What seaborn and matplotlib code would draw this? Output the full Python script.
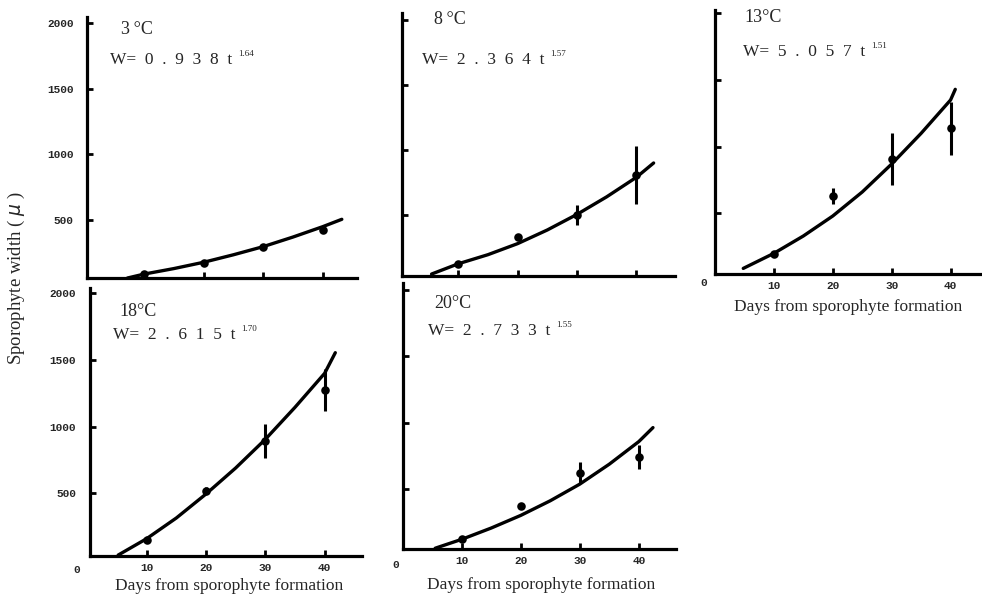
import matplotlib
matplotlib.use("Agg")
import matplotlib.pyplot as plt
import seaborn as sns
import pandas as pd

# ---------------- data ----------------
days = [10, 20, 30, 40]
panel_titles = ["3\u2009\u00b0C", "8\u2009\u00b0C", "13\u00b0C", "18\u00b0C", "20\u00b0C"]
coef_text = ["0 . 9 3 8", "2 . 3 6 4", "5 . 0 5 7", "2 . 6 1 5", "2 . 7 3 3"]
exp_text = ["1.64", "1.57", "1.51", "1.70", "1.55"]

width_3 = [89, 175, 297, 424]
err_3 = [8, 8, 10, 12]
width_8 = [123, 328, 500, 808]
err_8 = [20, 10, 77, 224]
width_13 = [195, 630, 905, 1137]
err_13 = [10, 60, 195, 196]
width_18 = [150, 520, 892, 1275]
err_18 = [10, 25, 130, 160]
width_20 = [125, 376, 626, 742]
err_20 = [10, 10, 80, 90]

fit_t_3 = [7.2, 10, 15, 20, 25, 30, 35, 40, 43.2]
fit_w_3 = [58, 88, 130, 178, 235, 297, 370, 449, 505]
fit_t_8 = [5.5, 10, 15, 20, 25, 30, 35, 40, 42.9]
fit_w_8 = [46, 125, 195, 280, 385, 505, 640, 790, 900]
fit_t_13 = [4.8, 10, 15, 20, 25, 30, 35, 40, 40.8]
fit_w_13 = [87, 200, 330, 480, 660, 870, 1100, 1350, 1430]
fit_t_18 = [5.2, 10, 15, 20, 25, 30, 35, 40, 41.8]
fit_w_18 = [37, 160, 315, 495, 690, 905, 1145, 1400, 1555]
fit_t_20 = [5.5, 10, 15, 20, 25, 30, 35, 40, 42.4]
fit_w_20 = [58, 125, 210, 305, 415, 540, 690, 860, 965]

y_ticks = [500, 1000, 1500, 2000]
x_ticks = [10, 20, 30, 40]
x_label = "Days from sporophyte formation"
y_label = "Sporophyte width ( $\\mu$ )"

# ---------------- layout ----------------
W_PX, H_PX = 982, 601
sns.set_style("ticks")
plt.rcParams["font.family"] = ["Liberation Serif", "DejaVu Serif"]

fig = plt.figure(figsize=(W_PX / 100, H_PX / 100), dpi=100)

def fx(x):
    return x / W_PX

def fy(y):
    return 1 - y / H_PX

def add_ax(l, t, r, b):
    return fig.add_axes([fx(l), fy(b), (r - l) / W_PX, (b - t) / H_PX])

panels = [
    dict(box=(87.3, 16.7, 357.3, 278.3), ylim=(56, 2047), xlim=(0.47, 45.8),
         w=width_3, e=err_3, ft=fit_t_3, fw=fit_w_3, ylab=True, xlab=False,
         title=(121, 30), eq=(110, 60), zero=None),
    dict(box=(401.7, 13.3, 675, 276), ylim=(31, 2051), xlim=(0.47, 46.5),
         w=width_8, e=err_8, ft=fit_t_8, fw=fit_w_8, ylab=False, xlab=False,
         title=(434, 20), eq=(422, 59.5), zero=None),
    dict(box=(715, 10, 980, 274), ylim=(45, 2025), xlim=(0.0, 45.0),
         w=width_13, e=err_13, ft=fit_t_13, fw=fit_w_13, ylab=False, xlab=True,
         title=(744, 17.5), eq=(743, 52), zero=(704, 283)),
    dict(box=(90, 288.3, 362, 556), ylim=(30, 2038), xlim=(0.45, 46.3),
         w=width_18, e=err_18, ft=fit_t_18, fw=fit_w_18, ylab=True, xlab=True,
         title=(119, 312), eq=(113, 335), zero=(77, 570)),
    dict(box=(403.3, 283.3, 676, 549.3), ylim=(50, 2050), xlim=(0.1, 46.3),
         w=width_20, e=err_20, ft=fit_t_20, fw=fit_w_20, ylab=False, xlab=True,
         title=(434, 303), eq=(428, 331), zero=(396, 565)),
]

tick_font = dict(family="Liberation Mono", weight="bold", size=8)
SP = "\u2002"

for i, p in enumerate(panels):
    ax = add_ax(*p["box"])
    fit_df = pd.DataFrame({"t": p["ft"], "w": p["fw"]})
    pts_df = pd.DataFrame({"t": days, "w": p["w"], "e": p["e"]})
    sns.lineplot(data=fit_df, x="t", y="w", ax=ax, color="black", lw=2.4,
                 sort=True, estimator=None)
    ax.vlines(pts_df["t"], pts_df["w"] - pts_df["e"], pts_df["w"] + pts_df["e"],
              color="black", lw=2.2)
    sns.scatterplot(data=pts_df, x="t", y="w", ax=ax, color="black", s=38,
                    edgecolor="black", linewidth=0, zorder=5)
    ax.set_xlim(*p["xlim"])
    ax.set_ylim(*p["ylim"])
    ax.set_xticks(x_ticks)
    ax.set_yticks(y_ticks)
    ax.set_xlabel("")
    ax.set_ylabel("")
    sns.despine(ax=ax)
    for s in ("left", "bottom"):
        ax.spines[s].set_linewidth(2.3)
        ax.spines[s].set_color("black")
    ax.tick_params(direction="in", length=4, width=2, color="black")
    ax.tick_params(axis="y", pad=10)
    ax.tick_params(axis="x", pad=5)
    if p["ylab"]:
        ax.set_yticklabels([str(v) for v in y_ticks], fontdict=tick_font)
    else:
        ax.set_yticklabels([])
    if p["xlab"]:
        ax.set_xticklabels([str(v) for v in x_ticks], fontdict=tick_font)
    else:
        ax.set_xticklabels([])
    ax.patch.set_alpha(0)

    # title and equation
    fig.text(fx(p["title"][0]), fy(p["title"][1]), panel_titles[i],
             fontsize=13, ha="left", va="center")
    eq_str = ("W=" + SP + coef_text[i].replace(" ", SP) + SP + "t")
    eq = fig.text(fx(p["eq"][0]), fy(p["eq"][1]), eq_str,
                  fontsize=12.5, ha="left", va="center")
    ax.annotate(exp_text[i], xy=(1.0, 0.85), xycoords=eq, xytext=(4, 0),
                textcoords="offset points", fontsize=6.5, ha="left", va="center")
    if p["zero"] is not None:
        fig.text(fx(p["zero"][0]), fy(p["zero"][1]), "0", ha="center", va="center",
                 **tick_font)

# axis labels
fig.text(fx(229), fy(586), x_label, fontsize=12.5, ha="center", va="center")
fig.text(fx(541), fy(585), x_label, fontsize=12.5, ha="center", va="center")
fig.text(fx(848), fy(307), x_label, fontsize=12.5, ha="center", va="center")
fig.text(fx(16), fy(278), y_label, fontsize=13.5, ha="center", va="center",
         rotation=90)

fig.savefig("out.png", dpi=100)
